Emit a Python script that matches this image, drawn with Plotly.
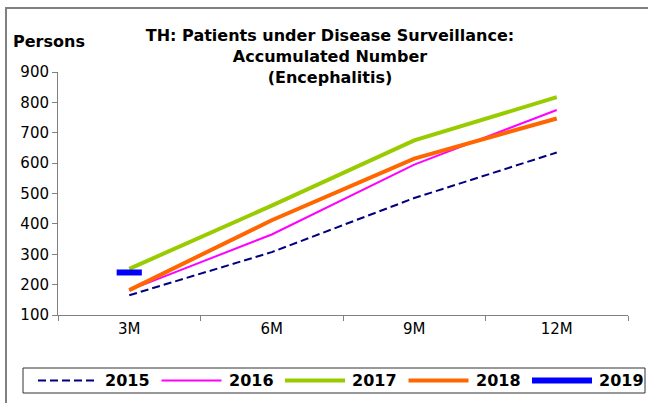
import plotly.graph_objects as go

# Accumulated encephalitis cases under surveillance, by quarter-end
periods = ["3M", "6M", "9M", "12M"]
cases_2015 = [165, 307, 485, 635]
cases_2016 = [182, 365, 595, 775]
cases_2017 = [252, 460, 675, 817]
cases_2018 = [182, 412, 615, 747]
cases_2019 = [240]

years = ["2015", "2016", "2017", "2018", "2019"]
series = [cases_2015, cases_2016, cases_2017, cases_2018, cases_2019]
styles = [
    dict(color="#000080", width=2, dash="8px,4px"),
    dict(color="#FF00FF", width=2),
    dict(color="#99CC00", width=4),
    dict(color="#FF6600", width=4),
    dict(color="#0000FF", width=6),
]

W, H = 648, 403
ML, MR, MT, MB = 58, 20, 72, 88
PW, PH = W - ML - MR, H - MT - MB


def px_x(p):
    return (p - ML) / PW


def px_y(p):
    return (H - MB - p) / PH


FONT = "DejaVu Sans, Liberation Sans, Arial, sans-serif"

fig = go.Figure()
for year, values, style in zip(years, series, styles):
    if len(values) > 1:
        fig.add_trace(go.Scatter(x=periods[:len(values)], y=values, name=year,
                                 mode="lines", line=style))
    else:
        # a lone data point is shown as a short horizontal bar
        fig.add_trace(go.Scatter(x=periods[:len(values)], y=values, name=year,
                                 mode="markers",
                                 marker=dict(symbol="line-ew", size=18,
                                             line=dict(color=style["color"],
                                                       width=style["width"]))))

fig.update_layout(
    width=W, height=H,
    margin=dict(l=ML, r=MR, t=MT, b=MB, autoexpand=False),
    paper_bgcolor="white", plot_bgcolor="white",
    font=dict(family=FONT, size=15, color="black"),
    showlegend=False,
    title=dict(
        text="<b>TH: Patients under Disease Surveillance:<br>Accumulated Number<br>(Encephalitis)</b>",
        x=330 / W, xanchor="center", xref="container",
        y=1 - 41 / H, yanchor="top", yref="container",
        font=dict(family=FONT, size=16, color="black"),
    ),
    xaxis=dict(
        type="category", showgrid=False, zeroline=False,
        showline=True, linecolor="#808080", linewidth=1,
        ticks="outside", tickson="boundaries", ticklen=5, tickcolor="#808080",
        tickfont=dict(size=15), range=[-0.5, 3.5],
    ),
    yaxis=dict(
        range=[100, 900], dtick=100, showgrid=False, zeroline=False,
        showline=True, linecolor="#808080", linewidth=1,
        ticks="outside", ticklen=5, tickcolor="#808080",
        tickfont=dict(size=15),
    ),
)

fig.add_annotation(
    text="<b>Persons</b>", xref="paper", yref="paper",
    x=px_x(11), y=px_y(42), xanchor="left", yanchor="middle",
    showarrow=False, font=dict(family=FONT, size=16, color="black"),
)

# Outer chart frame
fig.add_shape(type="rect", xref="paper", yref="paper",
              x0=px_x(6), y0=px_y(8), x1=px_x(W + 20), y1=px_y(H + 20),
              line=dict(color="#808080", width=2), layer="below")

# Legend: bordered strip under the plot with one sample line per year
fig.add_shape(type="rect", xref="paper", yref="paper",
              x0=px_x(23), y0=px_y(368), x1=px_x(645), y1=px_y(393),
              line=dict(color="#333333", width=1), fillcolor="white")
leg_y = px_y(380.5)
for i, (year, style) in enumerate(zip(years, styles)):
    x_start = 38 + i * 123.5
    fig.add_shape(type="line", xref="paper", yref="paper",
                  x0=px_x(x_start), x1=px_x(x_start + 60), y0=leg_y, y1=leg_y,
                  line=style)
    fig.add_annotation(text=f"<b>{year}</b>", xref="paper", yref="paper",
                       x=px_x(x_start + 65), y=leg_y, xanchor="left",
                       yanchor="middle", showarrow=False,
                       font=dict(family=FONT, size=16, color="black"))

fig.write_html("out.html")
